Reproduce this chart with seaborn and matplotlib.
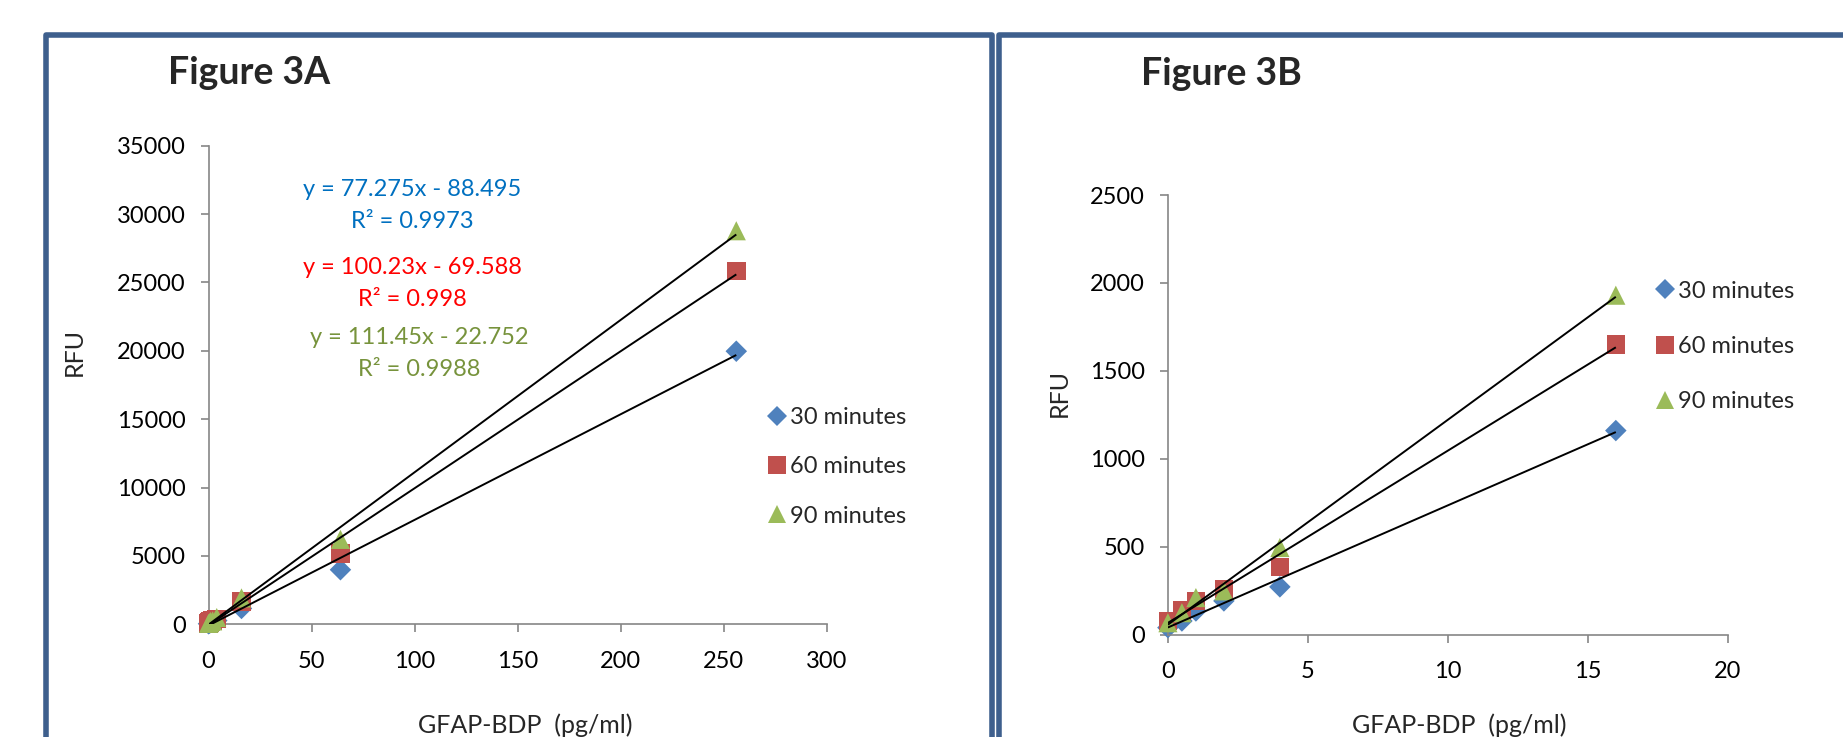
import matplotlib.pyplot as plt
import seaborn as sns
import numpy as np
import pandas as pd
from matplotlib.lines import Line2D

# GFAP-BDP concentration (pg/ml) and RFU readings per incubation time
conc = [0, 0.5, 1, 2, 4, 16, 64, 256]
rfu_30 = [39, 77, 134, 191, 271, 1160, 3990, 19970]
rfu_60 = [77, 138, 191, 258, 385, 1650, 5180, 25850]
rfu_90 = [67, 124, 210, 248, 495, 1930, 6210, 28780]
series = ['30 minutes', '60 minutes', '90 minutes']

# trendlines printed on Figure 3A
slopes_a = [77.275, 100.23, 111.45]
intercepts_a = [-88.495, -69.588, -22.752]
r2_a = [0.9973, 0.998, 0.9988]

colors = ['#4F81BD', '#C0504D', '#9BBB59']
eq_colors = ['#0070C0', '#FF0000', '#77933C']
markers = ['D', 's', '^']
sizes = [120, 180, 190]
leg_sizes = [10.5, 13.0, 13.5]

W, H = 1843, 737
df = pd.DataFrame({
    'conc': conc * 3,
    'rfu': rfu_30 + rfu_60 + rfu_90,
    'series': [s for s in series for _ in conc],
})

sns.set_style('ticks')
plt.rcParams['font.family'] = ['Lato', 'DejaVu Sans']

fig = plt.figure(figsize=(W / 100, H / 100), dpi=100)


def fx(px):
    return px / W


def fy(py):
    return 1 - py / H


def draw_panel(ax, data, fits, xmax, ymax, xstep, ystep):
    for i, name in enumerate(series):
        d = data[data['series'] == name]
        sns.scatterplot(data=d, x='conc', y='rfu', marker=markers[i], s=sizes[i],
                        color=colors[i], edgecolor='none', linewidth=0, ax=ax,
                        legend=False, zorder=2 + i, clip_on=False)
    for slope, icpt, xend in fits:
        xs = np.array([0, xend])
        ax.plot(xs, slope * xs + icpt, color='black', lw=1.4, zorder=6,
                solid_capstyle='butt')
    ax.set_xlim(0, xmax)
    ax.set_ylim(0, ymax)
    ax.set_xticks(np.arange(0, xmax + xstep / 2, xstep))
    ax.set_yticks(np.arange(0, ymax + ystep / 2, ystep))
    ax.set_xlabel('')
    ax.set_ylabel('')
    sns.despine(ax=ax)
    for sp in ['left', 'bottom']:
        ax.spines[sp].set_color('#868686')
        ax.spines[sp].set_linewidth(1.2)
    ax.tick_params(axis='both', colors='#868686', labelcolor='black',
                   labelsize=17, length=5.5, width=1.2)
    ax.tick_params(axis='y', pad=11)
    ax.tick_params(axis='x', pad=13.5)


def add_legend(ax, x_px, y_px, spacing):
    handles = [Line2D([], [], linestyle='none', marker=markers[i], color=colors[i],
                      markersize=leg_sizes[i], markeredgewidth=0)
               for i in range(3)]
    ax.legend(handles, series, loc='upper left', bbox_to_anchor=(fx(x_px), fy(y_px)),
              bbox_transform=fig.transFigure, frameon=False, fontsize=17,
              handlelength=0.7, handletextpad=0.22, labelspacing=spacing,
              borderpad=0, borderaxespad=0)


# Figure 3A
ax_a = fig.add_axes([fx(208.5), fy(624.3), fx(827) - fx(208.5), (624.3 - 145.7) / H])
fits_a = [(slopes_a[i], intercepts_a[i], conc[-1]) for i in range(3)]
draw_panel(ax_a, df, fits_a, 300, 35000, 50, 5000)
add_legend(ax_a, 768.4, 407, 1.2)

eq_y = [(189.5, 221), (267, 299), (337, 369)]
eq_x = [412, 412, 419.6]
for i in range(3):
    sign = '-' if intercepts_a[i] < 0 else '+'
    fig.text(fx(eq_x[i]), fy(eq_y[i][0]), f'y = {slopes_a[i]}x {sign} {abs(intercepts_a[i])}',
             color=eq_colors[i], fontsize=17, ha='center', va='center')
    fig.text(fx(eq_x[i]), fy(eq_y[i][1]), f'R² = {r2_a[i]}',
             color=eq_colors[i], fontsize=17, ha='center', va='center')

# Figure 3B (low range)
sub = df[df['conc'] <= 16]
fits_b = []
for name in series:
    d = sub[sub['series'] == name]
    slope, icpt = np.polyfit(d['conc'], d['rfu'], 1)
    fits_b.append((slope, icpt, 16))
ax_b = fig.add_axes([fx(1167.9), fy(634.5), fx(1727.8) - fx(1167.9), (634.5 - 195) / H])
draw_panel(ax_b, sub, fits_b, 20, 2500, 5, 500)
add_legend(ax_b, 1656.7, 280.5, 1.46)

# titles and axis labels
fig.text(fx(168), fy(84), 'Figure 3A', fontsize=27, fontweight='bold', va='baseline')
fig.text(fx(1141), fy(84.6), 'Figure 3B', fontsize=27, fontweight='bold', va='baseline')
fig.text(fx(74.6), fy(351.7), 'RFU', fontsize=18, rotation=90, ha='center', va='center')
fig.text(fx(1059.6), fy(392.5), 'RFU', fontsize=18, rotation=90, ha='center', va='center')
fig.text(fx(525), fy(733), 'GFAP-BDP  (pg/ml)', fontsize=18, ha='center', va='baseline')
fig.text(fx(1459.6), fy(733), 'GFAP-BDP  (pg/ml)', fontsize=18, ha='center', va='baseline')

# chart frames
frame_kw = dict(color='#3E5F8D', lw=4, transform=fig.transFigure, solid_joinstyle='round')
fig.add_artist(Line2D([fx(45.5), fx(45.5), fx(992), fx(992)],
                      [fy(745), fy(34.5), fy(34.5), fy(745)], **frame_kw))
fig.add_artist(Line2D([fx(999.4), fx(999.4), fx(1860)],
                      [fy(745), fy(34.5), fy(34.5)], **frame_kw))

fig.savefig('out.png', dpi=100)
